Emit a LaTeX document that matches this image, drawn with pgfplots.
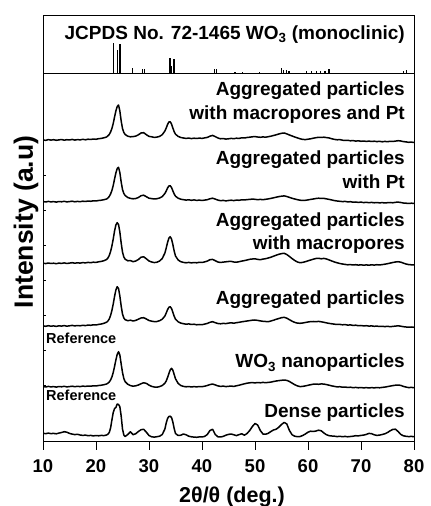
\documentclass[border=0pt]{standalone}
\usepackage{fontspec}
\setmainfont{Liberation Sans}
\usepackage{pgfplots}
\usepackage{pgfplotstable}
\pgfplotsset{compat=1.18}

\pgfplotstableread{
x c1 c2 c3 c4 c5 c6
10 302.2 240.5 178.9 116.2 55.5 8.8
10.5 301.6 240 178.4 115.7 55 8.3
11 302.4 240.6 179 116.3 55.6 8.9
11.5 301.9 240.1 178.5 115.8 55.1 8.4
12 302.3 240.4 178.8 116.1 55.4 8.6
12.5 301.7 239.9 178.3 115.6 54.9 8.2
13 302.1 240.5 178.9 116.2 55.5 8.9
13.5 302.5 240.2 178.6 115.9 55.2 9.5
14 301.8 240.7 179.1 116.4 55.7 10.3
14.5 302.3 240.1 178.5 115.8 55.1 9.8
15 302.0 240.4 178.9 116.2 55.4 8.6
15.5 302.6 240.8 179.3 116.6 55.8 7.9
16 301.9 240.2 178.8 116.1 55.3 7.4
16.5 302.4 240.6 179.2 116.5 55.7 7.7
17 302.1 240.3 178.9 116.2 55.4 7
17.5 302.7 240.8 179.4 116.7 55.9 6.6
18 302.2 240.5 179.1 116.4 55.6 6.9
18.5 302.8 241 179.6 116.9 56 6.3
19 302.5 240.7 179.3 116.7 55.8 6.6
19.5 303.0 241.2 179.8 117.2 56.2 6.1
20 302.7 241 179.6 117 56 6.5
20.5 303.3 241.5 180.2 117.6 56.5 6.2
21 303.6 241.8 180.6 118 56.8 6.6
21.5 304.2 242.3 181.3 118.7 57.3 6.4
22 305.0 243 182.5 119.8 58 7
22.25 306.2 244 184 121 58.8 7.8
22.5 307.5 245.5 186.5 123 60 9.5
22.75 310 248 190.5 126.5 62 14
23 313.5 251.5 196 131.5 65 22
23.25 318.5 256.5 203 138 69.5 29.5
23.5 325 263 211 145.5 75.5 33.5
23.75 331 269 217 152 82 34.5
24 335.5 273.5 219.3 155.3 87.5 38
24.25 337 274.7 217.5 153.5 90.3 37.5
24.5 331 269.5 210 146 87 35.3
24.75 321 260 199 136 78 26
25 313.5 252.5 190 128 69.5 13
25.25 309.5 248.5 185 124 63.5 7
25.5 307.5 246.5 182.8 122.3 60.3 5.5
26 305.8 244.5 181.2 121.3 57.7 7.5
26.5 305.2 243.6 181.4 121.8 56.4 10.2
27 305.4 243.2 180.3 121 55.8 7.3
27.5 305.9 243.5 181 121.6 56.2 8.3
28 307.2 244.5 182.5 122.8 57 10.5
28.5 309 246.3 184.8 124 58.3 12.3
29 309.3 246.8 185.2 124.3 59.2 12.7
29.5 307.3 245.3 183.2 123 58.6 9.8
30 305.6 243.8 181 121.5 56.9 6.5
30.5 305.2 243.4 180 120.8 55.6 5.2
31 304.6 243 179.4 120.4 55 4.9
31.5 304.9 243.3 179.8 120.5 54.8 5.3
32 305.6 244 181 121.3 55.4 5.8
32.5 307.3 245.4 183.5 122.8 56.5 7.5
33 311 248.5 189 126 58.8 13
33.25 314 251 194 129 61 19
33.5 317.5 254 199.5 132.3 64.5 23.5
33.75 320 256 203.8 134.7 68.5 25.5
34 320.3 256.3 205.3 135.3 72 25.8
34.25 318 254.5 203 133.5 73.7 24.5
34.5 314 251.2 197.5 129.8 71.8 20
34.75 310.3 248 191 125.8 67.5 13.5
35 307.8 245.8 186 122.8 63.2 8.5
35.5 305.6 243.8 182 120.2 58.6 6.5
36 304.5 242.8 180.3 118.9 56.5 6.8
36.5 304 242.3 179.6 118.3 55.6 8
37 303.6 241.9 179.2 117.8 55.2 7.2
37.5 303.9 242.2 179.6 118.1 55.5 5.8
38 303.4 241.7 179.1 117.5 55 5.2
38.5 303.8 242.1 179.5 117.8 55.4 4.9
39 303.5 241.6 179.2 117.2 55.1 4.7
39.5 303.9 241.9 179.7 117.5 55.5 5.1
40 303.6 241.5 179.5 117.3 55.3 5
40.5 304.1 241.9 180.1 117.9 55.8 5.6
41 304.6 242.3 180.9 118.6 56.5 7.5
41.5 305.8 243.2 182.3 119.7 57.4 11.5
42 306.6 243.8 182.6 120.3 58 12.7
42.5 305.4 242.9 181.3 119.3 57.1 7.5
43 304 241.9 180 118.5 56.1 5.2
43.5 303.2 241.3 179.5 118.2 55.6 5
44 303.5 241.6 179.9 118.6 55.9 5.6
44.5 302.9 241.1 180.2 118.4 55.4 6.8
45 303.2 241.5 180.5 118.9 55.7 7.6
45.5 303.6 241.8 180.6 119.2 55.9 8
46 303.3 241.4 180 118.8 55.6 7.2
46.5 303.8 241.9 179.8 119.3 56.2 6.4
47 303.6 241.7 180.3 119.7 56.8 7.4
47.5 304.2 242.2 180.9 120.2 57.5 8.2
48 304 242 181.4 120.6 58.2 6.8
48.5 304.5 242.4 182 121 58.8 8.5
49 304.8 242.6 182.7 121.4 59.2 11.5
49.5 305.2 242.9 183 121.8 59.4 15.5
50 305.4 242.7 183.2 122 59.1 18.5
50.5 305 242.3 182.6 121.6 59.5 17
51 304.7 242.6 182.3 121.1 59.2 11.5
51.5 305.1 242.3 182.9 120.7 59.6 8
52 304.8 242.7 183.3 120.5 59.3 7.8
52.5 305.3 243.1 184 120.3 59.6 8.7
53 305.8 243.6 184.8 121 59.9 10.5
53.5 306.5 244.2 185.8 121.8 60.5 12
54 307.2 244.8 186.8 122.7 61 12.8
54.5 308 245.4 187.7 123.5 61.4 14.8
55 308.7 245.8 188.4 124.3 61.7 17.5
55.5 309 246.1 188.7 124.7 62 19.6
56 308.1 245.5 187.5 123.8 61.6 18
56.5 307 244.6 185.5 122.3 60.5 11.5
57 306 243.7 183.4 120.8 58.9 7.2
57.5 305 243 181.5 119.6 57.3 5.8
58 304.1 242.3 180 118.9 56.1 5.3
58.5 303.2 241.8 179.3 118.7 55.4 5.5
59 302.6 241.5 179.6 119 55.6 6.5
59.5 302.4 241.7 180.3 119.5 56.1 8
60 302.8 242.1 181.2 120 56.7 9.8
60.5 303.2 242.6 182 120.4 57.3 10.8
61 303.8 243 182.8 120.5 57.8 10.5
61.5 304.3 243.5 183.5 120.3 58 11
62 304.7 243.8 183.7 120.6 57.7 11.8
62.5 304.5 243.5 183.2 120.2 58.1 11.2
63 304.8 243.6 183.6 119.7 57.9 9
63.5 304.4 243.1 183 119.1 57.4 7.2
64 304 242.6 182 118.6 56.8 6.3
64.5 303.2 242 181 118.2 56.1 6
65 302.6 241.4 180 117.8 55.6 5.8
65.5 302.2 241 179.2 117.5 55.1 5.4
66 302.4 240.7 178.5 117.6 55.3 5.7
66.5 301.8 240.4 178 117.2 54.8 5.3
67 301.5 240.6 177.6 117.4 55 5.6
67.5 301.7 240.1 177.2 116.9 54.5 5.2
68 301.2 240.3 177.4 117.1 54.8 5.5
68.5 301.4 239.8 177 116.6 54.3 5.8
69 300.9 240 177.3 116.8 54.6 6.3
69.5 301.2 239.6 176.9 116.3 54.2 6.1
70 300.7 239.9 177.2 116.5 54.5 6.6
70.5 301 239.4 176.8 116.1 54.1 6.9
71 300.6 239.7 177.1 116.3 54.4 7.6
71.5 300.9 239.3 176.8 115.9 54 8.6
72 300.5 239.6 177.2 116.1 54.4 8.3
72.5 300.8 239.2 176.9 115.7 54.1 7.2
73 300.4 239.5 177.3 115.9 54.5 6.6
73.5 300.7 239.1 177 115.5 54.2 6.9
74 300.2 239.4 177.4 115.7 54.6 7.5
74.5 300.6 239 177.8 115.4 54.9 8.2
75 300.3 239.3 178.3 115.7 55.4 9.5
75.5 300.7 239.5 178.9 115.3 55.9 11.2
76 300.5 239.2 179.5 115.6 56.4 12.6
76.5 300.9 239.7 180 115.9 56.8 12.8
77 301.3 239.9 180.3 116.2 57 10.5
77.5 301 239.5 179.8 115.8 56.6 7.6
78 300.4 239 178.9 115.3 55.6 6.2
78.5 300.1 238.8 178 115 54.9 5.7
79 299.7 238.5 177.4 114.8 54.4 5.4
79.5 299.9 238.8 177.2 115 54.6 5.6
80 299.5 238.6 177 114.7 54.3 5.3
}\xrd

\newcommand\lbl{\fontsize{19}{22}\selectfont\bfseries}
\newcommand\reff{\fontsize{14.5}{16}\selectfont\bfseries}

\begin{document}
\begin{tikzpicture}[x=1pt,y=1pt]
\useasboundingbox (0,0) rectangle (431,506);
\begin{axis}[at={(43pt,64pt)}, anchor=south west, scale only axis,
  width=371pt, height=368pt,
  xmin=10, xmax=80, ymin=0, ymax=368,
  xtick={10,20,...,80}, xtick pos=bottom, xtick align=outside,
  ytick=\empty, minor tick num=0,
  major tick length=8pt,
  axis line style={line width=1pt},
  tick style={line width=1pt, black},
  /pgf/number format/assume math mode=true,
  xticklabel style={font=\fontsize{18.5}{20}\selectfont\bfseries},
  xticklabel shift=6pt,
]
\addplot[black, line width=1.5pt, line join=round] table[x=x,y=c1]{\xrd};
\addplot[black, line width=1.5pt, line join=round] table[x=x,y=c2]{\xrd};
\addplot[black, line width=1.5pt, line join=round] table[x=x,y=c3]{\xrd};
\addplot[black, line width=1.5pt, line join=round] table[x=x,y=c4]{\xrd};
\addplot[black, line width=1.5pt, line join=round] table[x=x,y=c5]{\xrd};
\addplot[black, line width=1.5pt, line join=round] table[x=x,y=c6]{\xrd};
\end{axis}
\begin{axis}[at={(43pt,432pt)}, anchor=south west, scale only axis,
  width=371pt, height=58pt,
  xmin=10, xmax=80, ymin=0, ymax=58,
  ticks=none,
  axis line style={line width=1pt},
]
\addplot[ycomb, black, line width=1.3pt, mark=none] coordinates {
(23.24,30.7) (24.0,24) (24.5,30) (26.85,5.7) (28.8,5) (29.2,5)
(33.97,15.7) (34.3,8) (34.7,14.7) (42.3,5) (42.8,5) (46.2,2)
(47.7,1.5) (50.9,1.5) (55.0,5.7) (55.4,4) (55.9,4) (56.4,3)
(59.7,2.5) (60.6,2.5) (61.6,2.5) (62.4,3) (63.2,3) (63.9,4.5)
(64.1,4.5) (78.0,3) (78.6,3.5)};
\end{axis}
\foreach \v in {57,92,127,162,197,232,267,302} \draw[line width=0.6pt] (43,{64+\v}) -- ++(3,0);
\node[anchor=base east, font=\lbl, inner sep=0pt] at (405,466.7) {JCPDS No. 72-1465 WO\textsubscript{3} (monoclinic)};
\node[anchor=base east, font=\lbl, inner sep=0pt] at (405,410.3) {Aggregated particles};
\node[anchor=base east, font=\lbl, inner sep=0pt] at (405,386) {with macropores and Pt};
\node[anchor=base east, font=\lbl, inner sep=0pt] at (405,341) {Aggregated particles};
\node[anchor=base east, font=\lbl, inner sep=0pt] at (405,317.7) {with Pt};
\node[anchor=base east, font=\lbl, inner sep=0pt] at (405,279.3) {Aggregated particles};
\node[anchor=base east, font=\lbl, inner sep=0pt] at (405,256) {with macropores};
\node[anchor=base east, font=\lbl, inner sep=0pt] at (405,201.7) {Aggregated particles};
\node[anchor=base west, font=\reff, inner sep=0pt] at (46,162.7) {Reference};
\node[anchor=base east, font=\lbl, inner sep=0pt] at (405,138.3) {WO\textsubscript{3} nanoparticles};
\node[anchor=base west, font=\reff, inner sep=0pt] at (46,105) {Reference};
\node[anchor=base east, font=\lbl, inner sep=0pt] at (405,88.7) {Dense particles};
\node[rotate=90, font=\fontsize{26.5}{28}\selectfont\bfseries, inner sep=0pt] at (26,284) {Intensity (a.u)};
\node[anchor=base, font=\fontsize{21.5}{24}\selectfont\bfseries, inner sep=0pt] at (232,3.5) {2θ/θ (deg.)};
\end{tikzpicture}
\end{document}
